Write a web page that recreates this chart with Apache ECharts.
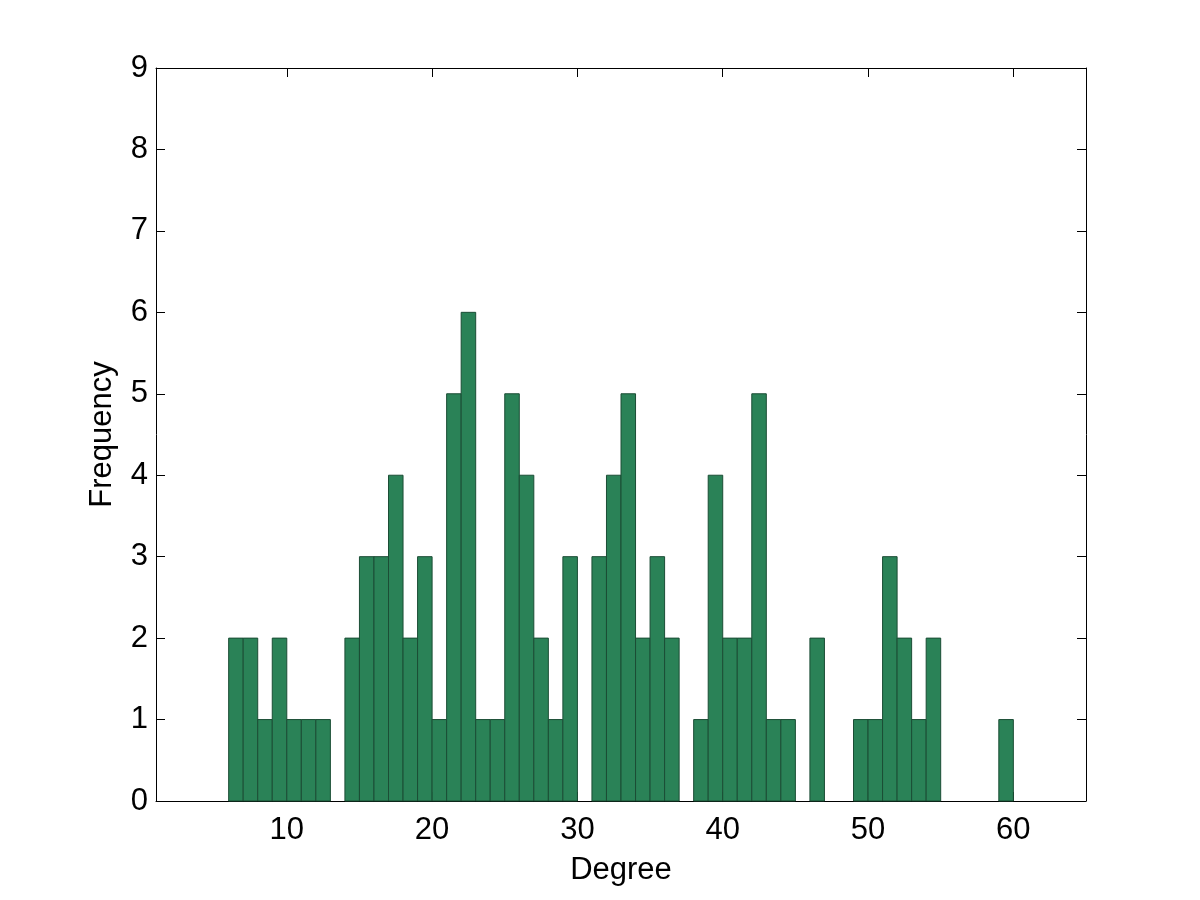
<!DOCTYPE html>
<html>
<head>
<meta charset="utf-8">
<script src="https://cdn.jsdelivr.net/npm/echarts@6/dist/echarts.min.js"></script>
<style>
html,body{margin:0;padding:0;background:#fff;}
#chart{width:1200px;height:900px;}
</style>
</head>
<body>
<div id="chart"></div>
<script>
// Histogram bins: left edge of each unit-wide bin and its count
var binStarts = [6,7,8,9,10,11,12,13,14,15,16,17,18,19,20,21,22,23,24,25,26,27,28,29,30,31,32,33,34,35,36,37,38,39,40,41,42,43,44,45,46,47,48,49,50,51,52,53,54,55,56,57,58,59];
var counts    = [2,2,1,2,1,1,1,0,2,3,3,4,2,3,1,5,6,1,1,5,4,2,1,3,0,3,4,5,2,3,2,0,1,4,2,2,5,1,1,0,2,0,0,1,1,3,2,1,2,0,0,0,0,1];
var binWidth = 1;
var xTicks = [10,20,30,40,50,60];
var xMin = 1, xMax = 65;
var yMin = 0, yMax = 9, yStep = 1;
var xName = 'Degree';
var yName = 'Frequency';

var data = binStarts.map(function(s, i){ return [s, counts[i]]; });

var FONT = 'Liberation Sans';
var FS = 31;
var chart = echarts.init(document.getElementById('chart'));
var tickStyle = {show:true, inside:true, length:9, lineStyle:{color:'#000', width:1}};
var lineStyle = {show:true, onZero:false, lineStyle:{color:'#000', width:1}};
chart.setOption({
  animation:false,
  backgroundColor:'#fff',
  grid:{left:156, right:114, top:68, bottom:99, containLabel:false},
  xAxis:[{
    type:'value', min:xMin, max:xMax, position:'bottom',
    axisLine:lineStyle,
    axisTick:Object.assign({customValues:xTicks}, tickStyle),
    axisLabel:{customValues:xTicks, color:'#000', fontSize:FS, fontFamily:FONT, margin:14},
    splitLine:{show:false},
    name:xName, nameLocation:'middle', nameGap:54,
    nameTextStyle:{color:'#000', fontSize:FS, fontFamily:FONT}
  },{
    type:'value', min:xMin, max:xMax, position:'top',
    axisLine:lineStyle,
    axisTick:Object.assign({customValues:xTicks}, tickStyle),
    axisLabel:{show:false},
    splitLine:{show:false}
  }],
  yAxis:[{
    type:'value', min:yMin, max:yMax, interval:yStep, position:'left',
    axisLine:lineStyle,
    axisTick:tickStyle,
    axisLabel:{color:'#000', fontSize:FS, fontFamily:FONT, margin:8},
    splitLine:{show:false},
    name:yName, nameLocation:'middle', nameGap:38,
    nameTextStyle:{color:'#000', fontSize:FS, fontFamily:FONT}
  },{
    type:'value', min:yMin, max:yMax, interval:yStep, position:'right',
    axisLine:lineStyle,
    axisTick:tickStyle,
    axisLabel:{show:false},
    splitLine:{show:false}
  }],
  series:[{
    type:'custom',
    xAxisIndex:0, yAxisIndex:0,
    data:data,
    renderItem:function(params, api){
      var s = api.value(0), c = api.value(1);
      if (!c) return null;
      var p1 = api.coord([s, c]);
      var p2 = api.coord([s + binWidth, 0]);
      return {
        type:'rect',
        shape:{x:p1[0], y:p1[1], width:p2[0]-p1[0], height:p2[1]-p1[1]},
        style:{fill:'#2a8257', stroke:'#1b4d35', lineWidth:1}
      };
    }
  }]
});
</script>
</body>
</html>
